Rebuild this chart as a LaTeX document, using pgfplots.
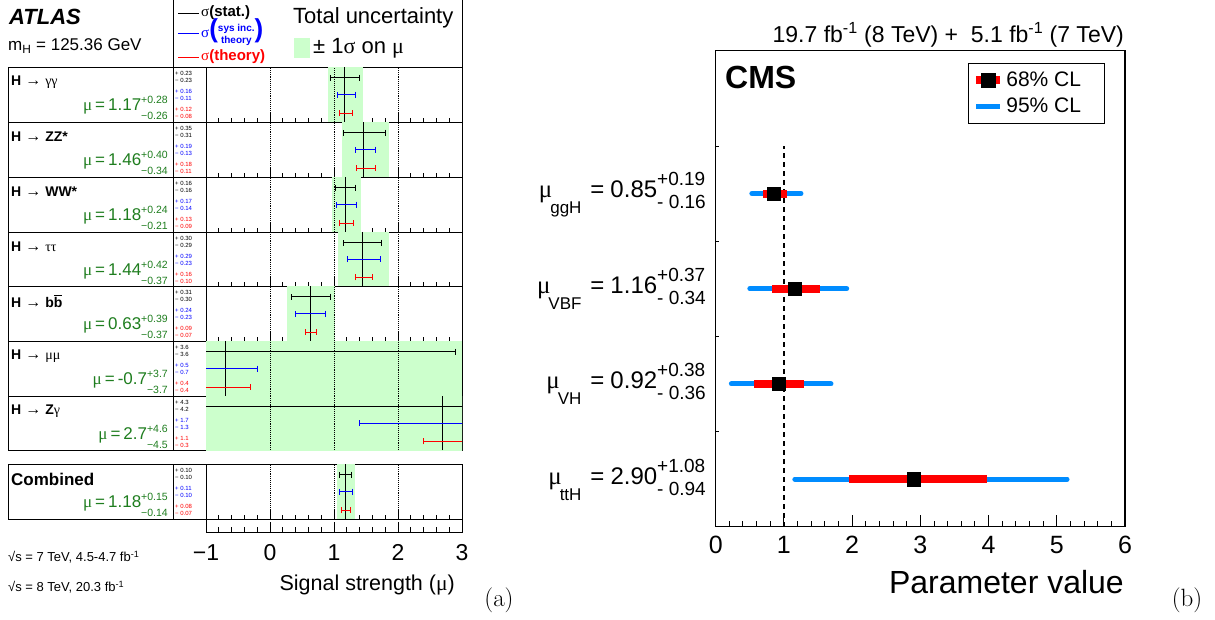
\documentclass[border=0pt]{standalone}
\usepackage{fontspec}
\setmainfont{Liberation Sans}
\newfontfamily\gk{Liberation Serif}
\newfontfamily\lmr{Latin Modern Roman}
\usepackage{pgfplots}
\pgfplotsset{compat=1.18}
\definecolor{band}{RGB}{204,255,204}
\definecolor{agreen}{RGB}{30,125,30}
\definecolor{cmsblue}{RGB}{0,140,255}
\newcommand\fs[1]{\fontsize{#1}{#1}\selectfont}
\newcommand\updn[2]{\raisebox{-9pt}{\fontsize{10.5}{16}\selectfont\begin{tabular}[b]{@{}r@{}}#1\\#2\end{tabular}}}
\newcommand\updnl[2]{\raisebox{-11pt}{\fontsize{19}{23}\selectfont\begin{tabular}[b]{@{}l@{}}#1\\#2\end{tabular}}}
\newcommand\arr{\hspace{4pt}{\fs{16}→}\hspace{4pt}}
\newcommand\bbar{\rlap{\rule[0.8em]{0.6em}{0.09em}}b}
\pgfplotsset{
 arow/.style={anchor=south west, width=256pt, scale only axis, xmin=-1, xmax=3, ymin=0, ymax=1,
   xtick={-1,0,1,2,3}, xticklabels={}, minor x tick num=4, xtick pos=left, ytick=\empty,
   tick align=inside, major tick length=9pt, minor tick length=4pt,
   axis line style={line width=1pt}, every tick/.style={black, line width=0.8pt}},
}
\newcommand\ebar[5]{\addplot[#1, mark=none, error bars/.cd, x dir=both, x explicit, error mark=|,
  error bar style={#1, line width=0.9pt}, error mark options={#1, mark size=3pt, line width=0.9pt}]
  coordinates {(#3,#2) += (#4,0) -= (#5,0)};}
\newcommand\rowplots[9]{%
 \addplot[mark=none, error bars/.cd, x dir=both, x explicit,
   error bar style={band, line width=80pt}, error mark options={mark size=0pt}]
   coordinates {(#1,0.5) += (#2,0) -= (#3,0)};
 \addplot[black, densely dotted, line width=0.9pt] coordinates {(0,0) (0,1)};
 \addplot[black, densely dotted, line width=0.9pt] coordinates {(1,0) (1,1)};
 \addplot[black, densely dotted, line width=0.9pt] coordinates {(2,0) (2,1)};
 \addplot[black, line width=1.2pt] coordinates {(#1,0) (#1,1)};
 \ebar{black}{0.805}{#1}{#4}{#5}
 \ebar{blue}{0.50}{#1}{#6}{#7}
 \ebar{red}{0.16}{#1}{#8}{#9}
}
\newcommand\cmsbar[3]{\addplot[mark=none, forget plot, error bars/.cd, x dir=both, x explicit,
  error bar style={red, line width=8pt}, error mark options={mark size=0pt}]
  coordinates {(#1) += (#2,0) -= (#3,0)};}
\newcommand\rowbox[2]{\draw[line width=1pt] (8,#1) rectangle (206,#2); \draw[line width=1pt] (173,#1)--(173,#2);}
\newcommand\nums[7]{%
 \node[anchor=west, align=left, inner sep=0, font=\fontsize{6}{7.6}\selectfont] at (175,#1+10) {+ #2\\− #3};
 \node[anchor=west, align=left, inner sep=0, text=blue, font=\fontsize{6}{7.6}\selectfont] at (175,#1+28) {+ #4\\− #5};
 \node[anchor=west, align=left, inner sep=0, text=red, font=\fontsize{6}{7.6}\selectfont] at (175,#1+46) {+ #6\\− #7};}
\newcommand\rowlab[5]{%
 \node[anchor=west, inner sep=0, font=\fs{14}] at (11,#1+15) {#2};
 \node[anchor=base east, inner sep=0, text=agreen, font=\fs{17}] at (168,#1+43) {{\gk μ}\hspace{3pt}=\hspace{3pt}#3\updn{#4}{#5}};}
\newcommand\cmslab[5]{\node[anchor=base east, inner sep=0, font=\fs{24}] at (706,#1) {{\gk\fs{25}μ}\hspace{-2pt}\raisebox{-16pt}{\fs{17}#2}\hspace{9pt}=\hspace{6pt}#3\updnl{#4}{#5}};}
\begin{document}
\begin{tikzpicture}
\begin{scope}[x=1pt,y=-1pt]
\path[use as bounding box] (0,0) rectangle (1215,619);
% ATLAS header
\node[anchor=west, inner sep=0, font=\bfseries\itshape\fs{22}] at (9,17) {ATLAS};
\node[anchor=west, inner sep=0, font=\fs{17}] at (8,46) {m\textsubscript{H} = 125.36 GeV};
\draw[line width=1pt] (173,0)--(173,67);
\draw[line width=1pt] (462,0)--(462,67);
\draw[black, line width=0.8pt] (178,13)--(199,13);
\node[anchor=west, inner sep=0, font=\fs{15}] at (201,13) {{\gk σ}\textbf{(stat.)}};
\draw[blue, line width=0.8pt] (178,33)--(199,33);
\node[anchor=west, inner sep=0, text=blue, font=\fs{15}] at (201,33) {{\gk σ}\textbf{{\fs{26}(}{\fontsize{10}{12}\selectfont\begin{tabular}{@{}c@{}}sys inc.\\theory\end{tabular}}{\fs{26})}}};
\draw[red, line width=0.8pt] (178,57)--(199,57);
\node[anchor=west, inner sep=0, text=red, font=\fs{15}] at (201,57) {{\gk σ}\textbf{(theory)}};
\node[anchor=west, inner sep=0, font=\fs{22}] at (293,18) {Total uncertainty};
\fill[band] (294,38) rectangle (310,58);
\node[anchor=west, inner sep=0, font=\fs{22}] at (313,48) {± 1{\gk σ} on {\gk μ}};
% row boxes
\rowbox{67}{122}\rowbox{122}{177}\rowbox{177}{232}\rowbox{232}{286}
\rowbox{286}{341}\rowbox{341}{396}\rowbox{396}{450}\rowbox{464}{519}
\rowlab{67}{\textbf{H}\arr{\gk γγ}}{1.17}{+0.28}{−0.26}
\rowlab{122}{\textbf{H}\arr\textbf{ZZ*}}{1.46}{+0.40}{−0.34}
\rowlab{177}{\textbf{H}\arr\textbf{WW*}}{1.18}{+0.24}{−0.21}
\rowlab{232}{\textbf{H}\arr{\gk ττ}}{1.44}{+0.42}{−0.37}
\rowlab{286}{\textbf{H}\arr\textbf{b\bbar}}{0.63}{+0.39}{−0.37}
\rowlab{341}{\textbf{H}\arr{\gk μμ}}{-0.7}{+3.7}{−3.7}
\rowlab{396}{\textbf{H}\arr\textbf{Z}{\gk γ}}{2.7}{+4.6}{−4.5}
\node[anchor=west, inner sep=0, font=\bfseries\fs{17}] at (11,479) {Combined};
\node[anchor=base east, inner sep=0, text=agreen, font=\fs{17}] at (168,507) {{\gk μ}\hspace{3pt}=\hspace{3pt}1.18\updn{+0.15}{−0.14}};
\nums{67}{0.23}{0.23}{0.16}{0.11}{0.12}{0.08}
\nums{122}{0.35}{0.31}{0.19}{0.13}{0.18}{0.11}
\nums{177}{0.16}{0.16}{0.17}{0.14}{0.13}{0.09}
\nums{232}{0.30}{0.29}{0.29}{0.23}{0.16}{0.10}
\nums{286}{0.31}{0.30}{0.24}{0.23}{0.09}{0.07}
\nums{341}{3.6}{3.6}{0.5}{0.7}{0.4}{0.4}
\nums{396}{4.3}{4.2}{1.7}{1.3}{1.1}{0.3}
\nums{464}{0.10}{0.10}{0.11}{0.10}{0.08}{0.07}
\node[anchor=west, inner sep=0, font=\fs{13}] at (8,557) {√s = 7 TeV, 4.5-4.7 fb\textsuperscript{-1}};
\node[anchor=west, inner sep=0, font=\fs{13}] at (8,587) {√s = 8 TeV, 20.3 fb\textsuperscript{-1}};
\node[anchor=east, inner sep=0, font=\fs{21.5}] at (455,585) {Signal strength ({\gk μ})};
\node[inner sep=0, font=\lmr\fs{25}] at (499,600) {(a)};
% CMS texts
\node[anchor=east, inner sep=0, font=\fs{23}] at (1124,35) {19.7 fb\textsuperscript{-1} (8 TeV) +\ \ 5.1 fb\textsuperscript{-1} (7 TeV)};
\node[anchor=west, inner sep=0, font=\bfseries\fs{32}] at (725,77) {CMS};
\node[anchor=east, inner sep=0, font=\fs{32}] at (1124,582) {Parameter value};
\cmslab{197}{ggH}{0.85}{+0.19}{- 0.16}
\cmslab{293}{VBF}{1.16}{+0.37}{- 0.34}
\cmslab{388}{VH}{0.92}{+0.38}{- 0.36}
\cmslab{484}{ttH}{2.90}{+1.08}{- 0.94}
\node[inner sep=0, font=\lmr\fs{25}] at (1187,600) {(b)};
\end{scope}
% ATLAS rows
\begin{axis}[arow, at={(206pt,-122pt)}, height=55pt]\rowplots{1.17}{0.28}{0.26}{0.23}{0.23}{0.16}{0.11}{0.12}{0.08}\end{axis}
\begin{axis}[arow, at={(206pt,-177pt)}, height=55pt]\rowplots{1.46}{0.40}{0.34}{0.35}{0.31}{0.19}{0.13}{0.18}{0.11}\end{axis}
\begin{axis}[arow, at={(206pt,-232pt)}, height=55pt]\rowplots{1.18}{0.24}{0.21}{0.16}{0.16}{0.17}{0.14}{0.13}{0.09}\end{axis}
\begin{axis}[arow, at={(206pt,-286pt)}, height=54pt]\rowplots{1.44}{0.42}{0.37}{0.30}{0.29}{0.29}{0.23}{0.16}{0.10}\end{axis}
\begin{axis}[arow, at={(206pt,-341pt)}, height=55pt]\rowplots{0.63}{0.39}{0.37}{0.31}{0.30}{0.24}{0.23}{0.09}{0.07}\end{axis}
\begin{axis}[arow, at={(206pt,-396pt)}, height=55pt]\rowplots{-0.7}{3.7}{3.7}{3.6}{3.6}{0.5}{0.7}{0.4}{0.4}\end{axis}
\begin{axis}[arow, at={(206pt,-450pt)}, height=54pt]\rowplots{2.7}{4.6}{4.5}{4.3}{4.2}{1.7}{1.3}{1.1}{0.3}\end{axis}
\begin{axis}[arow, at={(206pt,-519pt)}, height=55pt]\rowplots{1.18}{0.15}{0.14}{0.10}{0.10}{0.11}{0.10}{0.08}{0.07}\end{axis}
\begin{axis}[arow, at={(206pt,-532pt)}, height=13pt, xticklabels={−1,0,1,2,3},
  xticklabel style={font=\fs{23}, yshift=-9pt}, major tick length=10pt, minor tick length=5pt]
\end{axis}
% CMS
\begin{axis}[anchor=south west, at={(715.7pt,-526.7pt)}, width=409.3pt, height=476pt, scale only axis,
 xmin=0, xmax=6, ymin=0, ymax=5, xtick={0,1,2,3,4,5,6}, xticklabels={0,1,2,3,4,5,6},
 minor x tick num=4, xtick pos=left, ytick=\empty, tick align=inside, major tick length=12pt, minor tick length=6pt,
 axis line style={line width=1.5pt}, every tick/.style={black, line width=1pt},
 xticklabel style={font=\fs{25}, yshift=-6pt},
 legend style={at={(0.616,0.975)}, anchor=north west, draw=black, line width=1pt, font=\fs{21}, inner xsep=4pt, inner ysep=7pt, row sep=6pt},
 legend cell align=left]
\addlegendimage{legend image code/.code={\draw[red, line width=8pt] (0pt,0pt)--(24pt,0pt); \fill[black] (5pt,-7pt) rectangle (19pt,7pt);}}
\addlegendentry{\makebox[92pt][l]{68\% CL}}
\addlegendimage{legend image code/.code={\draw[cmsblue, line width=5pt] (0pt,0pt)--(24pt,0pt);}}
\addlegendentry{\makebox[92pt][l]{95\% CL}}
\addplot[black, line width=1.8pt, dash pattern=on 5pt off 4pt, forget plot] coordinates {(1,0) (1,4)};
\addplot[cmsblue, line width=5pt, line cap=round, forget plot] coordinates {(0.53,3.5) (1.25,3.5)};
\addplot[cmsblue, line width=5pt, line cap=round, forget plot] coordinates {(0.50,2.5) (1.92,2.5)};
\addplot[cmsblue, line width=5pt, line cap=round, forget plot] coordinates {(0.23,1.5) (1.69,1.5)};
\addplot[cmsblue, line width=5pt, line cap=round, forget plot] coordinates {(1.16,0.5) (5.15,0.5)};
\cmsbar{0.85,3.5}{0.19}{0.16}
\cmsbar{1.16,2.5}{0.37}{0.34}
\cmsbar{0.92,1.5}{0.38}{0.36}
\cmsbar{2.90,0.5}{1.08}{0.94}
\addplot[only marks, mark=square*, mark size=6.7pt, black, forget plot] coordinates {(0.85,3.5) (1.16,2.5) (0.92,1.5) (2.90,0.5)};
\end{axis}
\begin{axis}[anchor=south west, at={(715.7pt,-526.7pt)}, width=409.3pt, height=476pt, scale only axis,
 xmin=0, xmax=6, ymin=0, ymax=5, axis line style={draw=none}, xtick=\empty, ytick={1,2,3,4}, yticklabels={},
 ytick pos=left, tick align=inside, major tick length=3pt, every tick/.style={black, line width=0.8pt}]
\end{axis}
\end{tikzpicture}
\end{document}
